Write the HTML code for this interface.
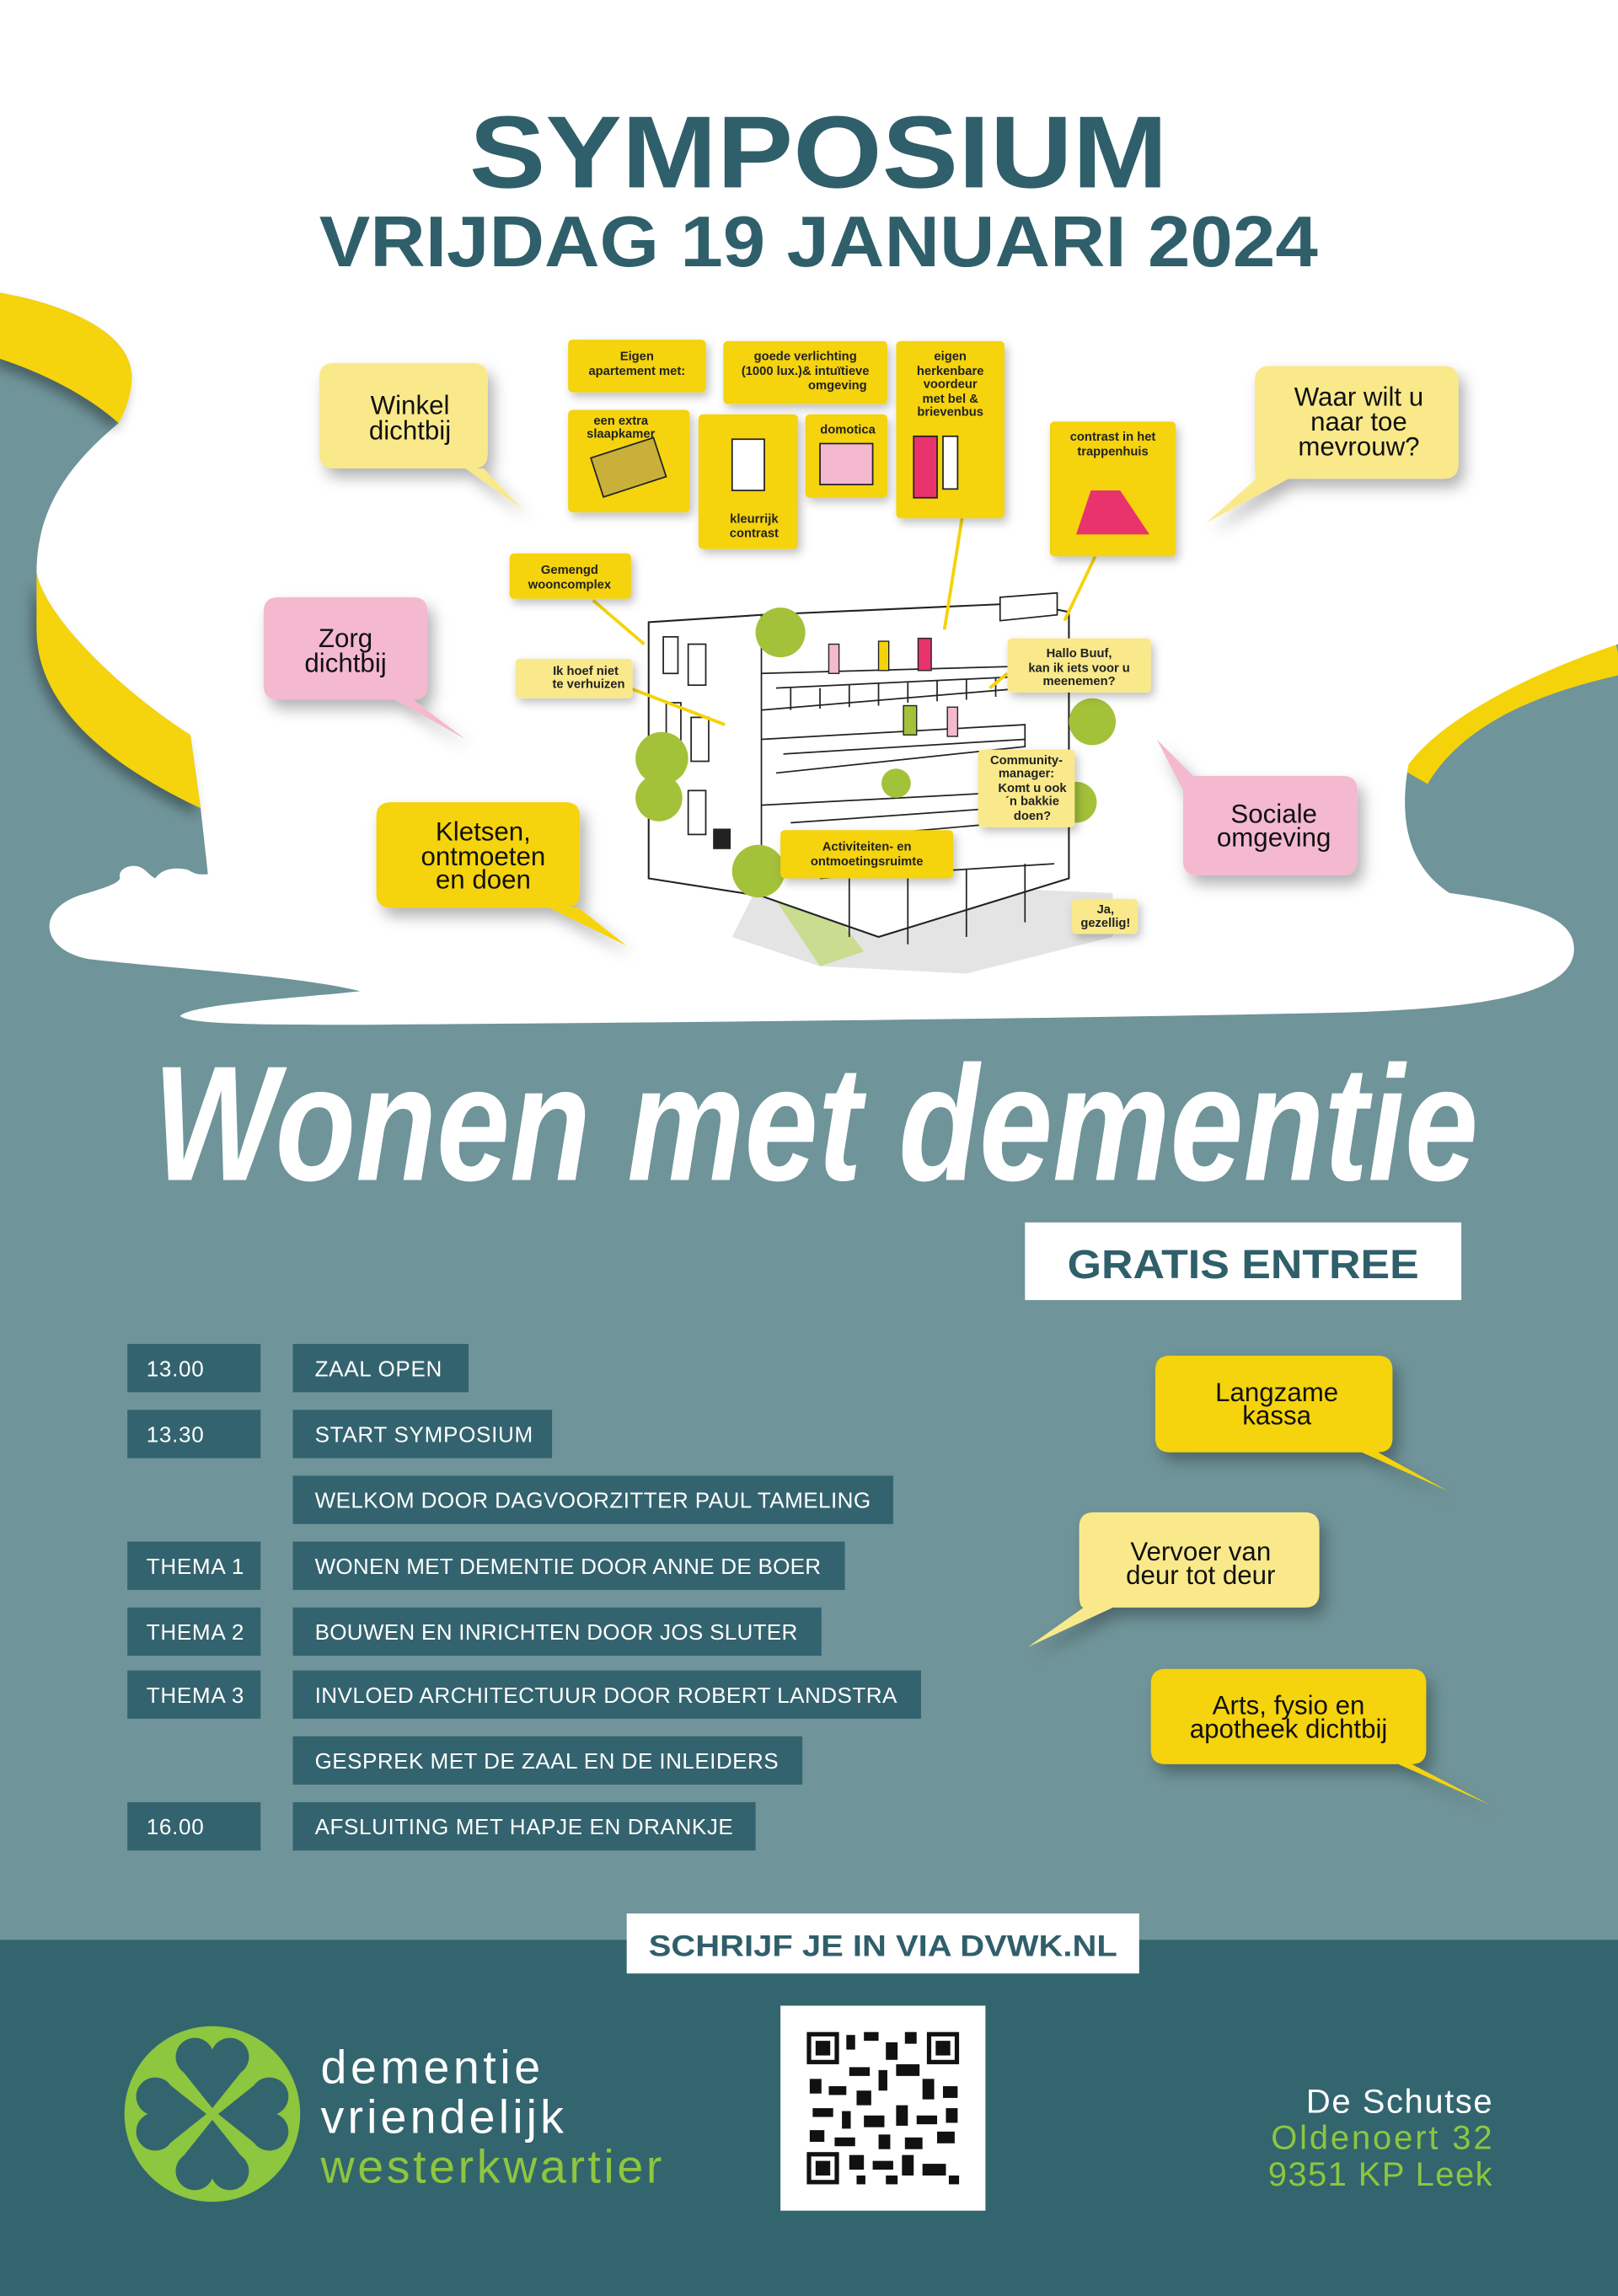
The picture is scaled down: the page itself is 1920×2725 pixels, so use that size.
<!DOCTYPE html>
<html><head><meta charset="utf-8"><style>
html,body{margin:0;padding:0;background:#fff;}
svg{display:block;}
text{font-family:"Liberation Sans",sans-serif;}
</style></head><body>
<svg width="1920" height="2725" viewBox="0 0 1105 1568.3" xmlns="http://www.w3.org/2000/svg">
<defs>
<filter id="sh" x="-30%" y="-30%" width="160%" height="170%"><feDropShadow dx="4" dy="6" stdDeviation="5" flood-color="#000" flood-opacity="0.3"/></filter>
<filter id="sh2" x="-20%" y="-20%" width="140%" height="140%"><feDropShadow dx="2" dy="3" stdDeviation="3" flood-color="#000" flood-opacity="0.25"/></filter>
<filter id="sh3" x="-30%" y="-30%" width="160%" height="160%"><feDropShadow dx="-3" dy="5" stdDeviation="4" flood-color="#000" flood-opacity="0.35"/></filter>
</defs>
<rect x="0" y="0" width="1105" height="1568.3" fill="#6f9499"/>
<!-- right ribbon -->
<path d="M962,528 C990,480 1050,458 1105,446" fill="none" stroke="#f5d30a" stroke-width="30"/>
<!-- white cloud -->
<path d="M0,0 H1105 V440 C1060,455 990,485 962,522 C955,560 962,592 990,610 C1040,617 1075,625 1075,648 C1075,682 1000,690 900,692 C700,696 500,698 250,700 C180,700 130,700 123,694 C130,686 200,682 246,677 C200,666 120,662 60,655 C25,648 25,618 60,610 C72,606 80,604 82,600 C80,594 88,590 95,592 C100,594 102,598 106,600 C110,594 118,592 128,594 C132,596 134,598 142,597 L137,552 L130,502 C80,470 30,420 25,391 C25,345 50,315 81,289 L90,258 C90,225 40,207 0,200 Z" fill="#fff"/>
<!-- left ribbons -->
<g filter="url(#sh3)">
<path d="M0,200 C40,207 90,225 90,258 C90,270 85,282 81,289 C60,270 30,255 0,245 Z" fill="#f5d30a"/>
<path d="M25,391 C30,420 80,470 130,502 L137,552 C90,530 25,490 25,430 Z" fill="#f5d30a"/>
</g>
<!-- titles -->
<text x="559" y="128" text-anchor="middle" font-size="70" font-weight="bold" fill="#2f5f6a" textLength="477" lengthAdjust="spacingAndGlyphs">SYMPOSIUM</text>
<text x="559" y="182" text-anchor="middle" font-size="49" font-weight="bold" fill="#2f5f6a" textLength="682" lengthAdjust="spacingAndGlyphs">VRIJDAG 19 JANUARI 2024</text>

<!-- building illustration -->
<g>
<polygon points="500,640 560,660 660,665 760,640 760,610 520,600" fill="#e4e4e4"/>
<polygon points="520,600 560,660 590,650 560,610" fill="#c9dc8f"/>
<polygon points="443,425 520,420 700,412 730,418 730,600 600,640 520,612 443,600" fill="#fff" stroke="#222" stroke-width="1.2"/>
<g stroke="#222" stroke-width="1" fill="none">
<line x1="520" y1="420" x2="520" y2="612"/>
<polyline points="520,460 700,455 700,470 520,485"/>
<polyline points="520,505 700,495 700,510 530,528"/>
<polyline points="520,550 710,540 710,560 540,575"/>
<rect x="453" y="435" width="10" height="25"/><rect x="470" y="440" width="12" height="28"/><rect x="455" y="480" width="10" height="28"/><rect x="472" y="490" width="12" height="30"/><rect x="470" y="540" width="12" height="30"/>
<line x1="530" y1="470" x2="700" y2="462"/><line x1="535" y1="515" x2="700" y2="505"/><line x1="540" y1="562" x2="710" y2="550"/>
<line x1="560" y1="600" x2="720" y2="590"/><line x1="580" y1="600" x2="580" y2="640"/><line x1="620" y1="598" x2="620" y2="645"/><line x1="660" y1="594" x2="660" y2="640"/><line x1="700" y1="590" x2="700" y2="630"/>
<line x1="540" y1="470" x2="540" y2="485"/><line x1="560" y1="470" x2="560" y2="484"/><line x1="580" y1="468" x2="580" y2="483"/><line x1="600" y1="467" x2="600" y2="482"/><line x1="620" y1="466" x2="620" y2="480"/><line x1="640" y1="465" x2="640" y2="479"/><line x1="660" y1="464" x2="660" y2="478"/><line x1="680" y1="463" x2="680" y2="476"/>
</g>
<rect x="600" y="438" width="7" height="20" fill="#f5d30a" stroke="#222" stroke-width=".8"/>
<rect x="627" y="436" width="9" height="22" fill="#e8336d" stroke="#222" stroke-width=".8"/>
<rect x="566" y="440" width="7" height="20" fill="#f4b8cf" stroke="#222" stroke-width=".8"/>
<rect x="617" y="482" width="9" height="20" fill="#a4c13a" stroke="#222" stroke-width=".8"/>
<rect x="647" y="483" width="7" height="20" fill="#f4b8cf" stroke="#222" stroke-width=".8"/>
<rect x="487" y="566" width="12" height="14" fill="#222"/>
<g fill="#a4c13a"><circle cx="533" cy="432" r="17"/><circle cx="452" cy="518" r="18"/><circle cx="450" cy="545" r="16"/><circle cx="518" cy="595" r="18"/><circle cx="746" cy="493" r="16"/><circle cx="735" cy="548" r="14"/><circle cx="612" cy="535" r="10"/></g>
<polygon points="683,408 722,405 722,420 683,424" fill="#fff" stroke="#222" stroke-width="1"/>
<g stroke="#f5d30a" stroke-width="2.2"><line x1="405" y1="410" x2="440" y2="440"/><line x1="430" y1="470" x2="495" y2="495"/><line x1="657" y1="354" x2="645" y2="430"/><line x1="748" y1="380" x2="727" y2="424"/><line x1="688" y1="460" x2="676" y2="470"/></g>
</g>

<!-- yellow info boxes -->
<g filter="url(#sh2)" fill="#f5d30a">
<rect x="388" y="232" width="94" height="36" rx="3"/>
<rect x="494" y="233" width="112" height="43" rx="3"/>
<rect x="612" y="233" width="74" height="121" rx="3"/>
<rect x="388" y="280" width="83" height="70" rx="3"/>
<rect x="477" y="283" width="68" height="92" rx="3"/>
<rect x="550" y="283" width="56" height="57" rx="3"/>
<rect x="717" y="288" width="86" height="92" rx="3"/>
<rect x="348" y="378" width="83" height="31" rx="3"/>
<rect x="352" y="450" width="80" height="27" rx="3" fill="#f9e98a"/>
<rect x="688" y="436" width="98" height="37" rx="3" fill="#f9e98a"/>
<rect x="668" y="512" width="66" height="53" rx="3" fill="#f9e98a"/>
<rect x="533" y="567" width="118" height="33" rx="3"/>
<rect x="732" y="614" width="45" height="24" rx="3" fill="#f9e98a"/>
</g>
<g font-size="8.5" font-weight="bold" fill="#222" text-anchor="middle">
<text x="435" y="246">Eigen</text><text x="435" y="256">apartement met:</text>
<text x="550" y="246">goede verlichting</text><text x="550" y="256">(1000 lux.)&amp; intuïtieve</text><text x="572" y="266">omgeving</text>
<text x="649" y="246">eigen</text><text x="649" y="256">herkenbare</text><text x="649" y="265">voordeur</text><text x="649" y="275">met bel &amp;</text><text x="649" y="284">brievenbus</text>
<text x="424" y="290">een extra</text><text x="424" y="299">slaapkamer</text>
<text x="515" y="357">kleurrijk</text><text x="515" y="367">contrast</text>
<text x="579" y="296">domotica</text>
<text x="760" y="301">contrast in het</text><text x="760" y="311">trappenhuis</text>
<text x="389" y="392">Gemengd</text><text x="389" y="402">wooncomplex</text>
<text x="400" y="461">Ik hoef niet</text><text x="402" y="470">te verhuizen</text>
<text x="737" y="449">Hallo Buuf,</text><text x="737" y="459">kan ik iets voor u</text><text x="737" y="468">meenemen?</text>
<text x="701" y="522">Community-</text><text x="701" y="531">manager:</text><text x="705" y="541">Komt  u ook</text><text x="705" y="550">´n bakkie</text><text x="705" y="560">doen?</text>
<text x="592" y="581">Activiteiten- en</text><text x="592" y="591">ontmoetingsruimte</text>
<text x="755" y="624">Ja,</text><text x="755" y="633">gezellig!</text>
</g>
<rect x="407" y="305" width="45" height="28" fill="#c8b03a" stroke="#222" stroke-width="1" transform="rotate(-18 430 320)"/>
<rect x="560" y="303" width="36" height="28" fill="#f4b8cf" stroke="#222" stroke-width="1"/>
<rect x="624" y="298" width="16" height="42" fill="#e8336d" stroke="#222" stroke-width="1"/>
<rect x="644" y="298" width="10" height="36" fill="#fff" stroke="#222" stroke-width="1"/>
<rect x="500" y="300" width="22" height="35" fill="#fff" stroke="#222" stroke-width="1"/>
<polygon points="735,365 785,365 765,335 745,335" fill="#e8336d"/>

<!-- speech bubbles -->
<g filter="url(#sh)">
<path d="M228,248 H323 Q333,248 333,258 V310 Q333,320 323,320 H330 L357,348 L318,320 H228 Q218,320 218,310 V258 Q218,248 228,248 Z" fill="#f9e98a"/>
<path d="M190,408 H282 Q292,408 292,418 V468 Q292,478 282,478 L318,505 L270,478 H190 Q180,478 180,468 V418 Q180,408 190,408 Z" fill="#f4b8cf"/>
<path d="M267,548 H386 Q396,548 396,558 V610 Q396,620 386,620 H395 L428,646 L375,620 H267 Q257,620 257,610 V558 Q257,548 267,548 Z" fill="#f5d30a"/>
<path d="M867,250 H986 Q996,250 996,260 V317 Q996,327 986,327 H880 L824,357 L858,327 Q857,327 857,317 V260 Q857,250 867,250 Z" fill="#f9e98a"/>
<path d="M818,530 H917 Q927,530 927,540 V588 Q927,598 917,598 H818 Q808,598 808,588 V540 L790,505 L815,530 Z" fill="#f4b8cf"/>
<path d="M799,926 H941 Q951,926 951,936 V982 Q951,992 941,992 L988,1018 L930,992 H799 Q789,992 789,982 V936 Q789,926 799,926 Z" fill="#f5d30a"/>
<path d="M747,1033 H891 Q901,1033 901,1043 V1088 Q901,1098 891,1098 H760 L702,1125 L740,1098 Q737,1098 737,1088 V1043 Q737,1033 747,1033 Z" fill="#f9e98a"/>
<path d="M796,1140 H964 Q974,1140 974,1150 V1195 Q974,1205 964,1205 L1018,1233 L955,1205 H796 Q786,1205 786,1195 V1150 Q786,1140 796,1140 Z" fill="#f5d30a"/>
</g>
<g font-size="18" fill="#111" text-anchor="middle">
<text x="280" y="283">Winkel</text><text x="280" y="300">dichtbij</text>
<text x="236" y="442">Zorg</text><text x="236" y="459">dichtbij</text>
<text x="330" y="574">Kletsen,</text><text x="330" y="591">ontmoeten</text><text x="330" y="607">en doen</text>
<text x="928" y="277">Waar wilt u</text><text x="928" y="294">naar toe</text><text x="928" y="311">mevrouw?</text>
<text x="870" y="562">Sociale</text><text x="870" y="578">omgeving</text>
<text x="872" y="957">Langzame</text><text x="872" y="973">kassa</text>
<text x="820" y="1066">Vervoer van</text><text x="820" y="1082">deur tot deur</text>
<text x="880" y="1171">Arts, fysio en</text><text x="880" y="1187">apotheek dichtbij</text>
</g>

<!-- script title -->
<text x="557" y="806" text-anchor="middle" font-family="'Liberation Serif',serif" font-style="italic" font-weight="bold" font-size="112" fill="#fff" textLength="905" lengthAdjust="spacingAndGlyphs">Wonen met dementie</text>

<!-- gratis entree -->
<rect x="700" y="835" width="298" height="53" fill="#fff"/>
<text x="849" y="873" text-anchor="middle" font-size="28" font-weight="bold" fill="#2f5f6a" textLength="240" lengthAdjust="spacingAndGlyphs">GRATIS ENTREE</text>

<!-- schedule -->
<g fill="#33636e">
<rect x="87" y="918" width="91" height="33"/><rect x="200" y="918" width="120" height="33"/>
<rect x="87" y="963" width="91" height="33"/><rect x="200" y="963" width="177" height="33"/>
<rect x="200" y="1008" width="410" height="33"/>
<rect x="87" y="1053" width="91" height="33"/><rect x="200" y="1053" width="377" height="33"/>
<rect x="87" y="1098" width="91" height="33"/><rect x="200" y="1098" width="361" height="33"/>
<rect x="87" y="1141" width="91" height="33"/><rect x="200" y="1141" width="429" height="33"/>
<rect x="200" y="1186" width="348" height="33"/>
<rect x="87" y="1231" width="91" height="33"/><rect x="200" y="1231" width="316" height="33"/>
</g>
<g font-size="15" fill="#fff" letter-spacing="0.4">
<text x="100" y="940">13.00</text><text x="215" y="940">ZAAL OPEN</text>
<text x="100" y="985">13.30</text><text x="215" y="985">START SYMPOSIUM</text>
<text x="215" y="1030" textLength="380">WELKOM DOOR DAGVOORZITTER PAUL TAMELING</text>
<text x="100" y="1075">THEMA 1</text><text x="215" y="1075" textLength="346">WONEN MET DEMENTIE DOOR ANNE DE BOER</text>
<text x="100" y="1120">THEMA 2</text><text x="215" y="1120" textLength="330">BOUWEN EN INRICHTEN DOOR JOS SLUTER</text>
<text x="100" y="1163">THEMA 3</text><text x="215" y="1163" textLength="398">INVLOED ARCHITECTUUR DOOR ROBERT LANDSTRA</text>
<text x="215" y="1208" textLength="317">GESPREK MET DE ZAAL EN DE INLEIDERS</text>
<text x="100" y="1253">16.00</text><text x="215" y="1253" textLength="286">AFSLUITING MET HAPJE EN DRANKJE</text>
</g>

<!-- bottom band -->
<rect x="0" y="1325" width="1105" height="244" fill="#33656f"/>
<rect x="428" y="1307" width="350" height="41" fill="#fff"/>
<text x="603" y="1336" text-anchor="middle" font-size="20" font-weight="bold" fill="#2f5f6a" textLength="320" lengthAdjust="spacingAndGlyphs">SCHRIJF JE IN VIA DVWK.NL</text>
<rect x="533" y="1370" width="140" height="140" fill="#fff"/>
<g fill="#111">
<rect x="551" y="1388" width="22" height="22"/><rect x="633" y="1388" width="22" height="22"/><rect x="551" y="1470" width="22" height="22"/>
<rect x="578" y="1390" width="6" height="10"/><rect x="590" y="1388" width="10" height="6"/><rect x="605" y="1395" width="8" height="12"/><rect x="618" y="1388" width="8" height="8"/>
<rect x="580" y="1412" width="14" height="6"/><rect x="600" y="1414" width="6" height="14"/><rect x="612" y="1410" width="16" height="8"/>
<rect x="553" y="1420" width="8" height="10"/><rect x="566" y="1425" width="12" height="6"/><rect x="585" y="1428" width="10" height="10"/><rect x="630" y="1420" width="8" height="14"/><rect x="644" y="1425" width="10" height="8"/>
<rect x="555" y="1440" width="14" height="6"/><rect x="575" y="1442" width="6" height="12"/><rect x="590" y="1445" width="14" height="8"/><rect x="612" y="1438" width="8" height="14"/><rect x="626" y="1445" width="14" height="6"/><rect x="646" y="1440" width="8" height="10"/>
<rect x="553" y="1455" width="10" height="8"/><rect x="570" y="1460" width="14" height="6"/><rect x="600" y="1458" width="8" height="10"/><rect x="618" y="1460" width="12" height="8"/><rect x="640" y="1456" width="12" height="8"/>
<rect x="580" y="1472" width="10" height="10"/><rect x="596" y="1476" width="14" height="6"/><rect x="616" y="1472" width="8" height="14"/><rect x="630" y="1478" width="16" height="8"/><rect x="585" y="1486" width="6" height="6"/><rect x="605" y="1486" width="8" height="6"/><rect x="648" y="1486" width="7" height="6"/>
</g>
<g fill="#fff"><rect x="554" y="1391" width="16" height="16"/><rect x="636" y="1391" width="16" height="16"/><rect x="554" y="1473" width="16" height="16"/></g>
<g fill="#111"><rect x="557" y="1394" width="10" height="10"/><rect x="639" y="1394" width="10" height="10"/><rect x="557" y="1476" width="10" height="10"/></g>
<!-- logo -->
<circle cx="145" cy="1444" r="60" fill="#8dc63f"/>
<g fill="#33656f">
<circle cx="133" cy="1405" r="13"/><circle cx="157" cy="1405" r="13"/><polygon points="121,1410 169,1410 145,1440"/>
<circle cx="133" cy="1483" r="13"/><circle cx="157" cy="1483" r="13"/><polygon points="121,1478 169,1478 145,1448"/>
<circle cx="106" cy="1432" r="13"/><circle cx="106" cy="1456" r="13"/><polygon points="111,1420 111,1468 141,1444"/>
<circle cx="184" cy="1432" r="13"/><circle cx="184" cy="1456" r="13"/><polygon points="179,1420 179,1468 149,1444"/>
</g>
<g stroke="#8dc63f" stroke-width="5"><line x1="118" y1="1417" x2="172" y2="1471"/><line x1="172" y1="1417" x2="118" y2="1471"/></g>
<text x="219" y="1423" font-size="32" fill="#fff" textLength="150">dementie</text>
<text x="219" y="1457" font-size="32" fill="#fff" textLength="166">vriendelijk</text>
<text x="219" y="1491" font-size="32" fill="#8dc63f" textLength="233">westerkwartier</text>
<g font-size="23" text-anchor="end">
<text x="1019" y="1443" fill="#fff" textLength="127">De Schutse</text>
<text x="1019" y="1468" fill="#8dc63f" textLength="151">Oldenoert 32</text>
<text x="1019" y="1493" fill="#8dc63f" textLength="153">9351 KP Leek</text>
</g>
</svg>
</body></html>
